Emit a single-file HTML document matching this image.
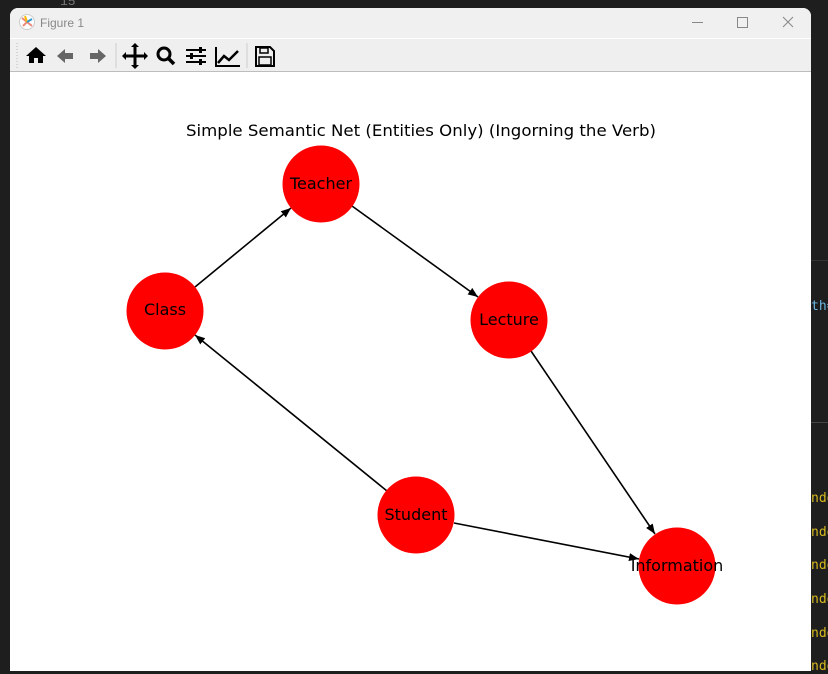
<!DOCTYPE html>
<html><head><style>
html,body{margin:0;padding:0;width:828px;height:671px;overflow:hidden;background:#1e1e1e;font-family:"Liberation Sans","DejaVu Sans",sans-serif;}
.win{position:absolute;left:10px;top:8px;width:801px;height:663px;background:#fff;border-radius:8px 8px 0 0;overflow:hidden;}
.title{position:absolute;left:0;top:0;width:801px;height:30px;background:#f0f0f0;border-bottom:1px solid #fff;}
.tb{position:absolute;left:0;top:31px;width:801px;height:32px;background:#efefef;border-bottom:1px solid #bdbdbd;}
.ed{position:absolute;color:#d7ba1d;font:13px "DejaVu Sans Mono",monospace;left:811px;}
</style></head><body>
<div style="position:absolute;left:811px;top:260px;width:17px;height:1px;background:#333"></div>
<div style="position:absolute;left:811px;top:422px;width:17px;height:1px;background:#444"></div>
<div class="ed" style="top:299px;color:#6cb6e0">th=</div>
<div class="ed" style="top:491px">ndo</div>
<div class="ed" style="top:525px">ndo</div>
<div class="ed" style="top:558px">ndo</div>
<div class="ed" style="top:592px">ndo</div>
<div class="ed" style="top:626px">ndo</div>
<div class="ed" style="top:659px">ndo</div>
<div style="position:absolute;left:60px;top:-6px;color:#777;font:13px monospace">15</div>
<div class="win">
 <div class="title">
  <svg style="position:absolute;left:9px;top:6px" width="16" height="16"><circle cx="8" cy="8" r="7.5" fill="#fff" stroke="#ccc"/><path d="M8 8L3 4M8 8L4 12M8 8L13 12" stroke="#e87" stroke-width="2"/><path d="M8 8L6 2" stroke="#fb0" stroke-width="2"/><path d="M8 8L13 5" stroke="#39c" stroke-width="2"/></svg>
  <div style="position:absolute;left:30px;top:8px;font-size:12px;color:#888">Figure 1</div>
  <div style="position:absolute;left:682px;top:14px;width:11px;height:1px;background:#888"></div>
  <div style="position:absolute;left:727px;top:9px;width:9px;height:9px;border:1px solid #888"></div>
  <svg style="position:absolute;left:772px;top:8px" width="12" height="12"><path d="M1 1L11 11M11 1L1 11" stroke="#888"/></svg>
 </div>
 <div class="tb">
  <svg width="300" height="32" style="position:absolute;left:0;top:0">
   <path d="M7 4v26" stroke="#bbb" stroke-dasharray="1,2"/>
   <path d="M16 17l10-9 10 9h-3v7h-5v-5h-4v5h-5v-7z" fill="#000"/>
   <path d="M47 17l8-7v4h8v6h-8v4z" fill="#666"/>
   <path d="M96 17l-8-7v4h-8v6h8v4z" fill="#666"/>
   <path d="M106 4v25" stroke="#ccc"/>
   <path d="M125 6v22M114 17h22" stroke="#000" stroke-width="3"/><path d="M125 4l-4 4h8zM125 30l-4-4h8zM112 17l4-4v8zM138 17l-4-4v8z" fill="#000"/>
   <circle cx="154" cy="15" r="6" fill="none" stroke="#000" stroke-width="3"/><path d="M158 19l6 6" stroke="#000" stroke-width="3.5"/>
   <path d="M176 11h20M176 17h20M176 23h20" stroke="#000" stroke-width="2"/><rect x="189" y="8" width="3" height="6" fill="#000"/><rect x="180" y="14" width="3" height="6" fill="#000"/><rect x="189" y="20" width="3" height="6" fill="#000"/>
   <path d="M206 8v19h24" stroke="#000" stroke-width="2" fill="none"/><path d="M208 24l6-7 5 4 9-9" stroke="#000" stroke-width="2.5" fill="none"/>
   <path d="M237 4v25" stroke="#ccc"/>
   <path d="M246 8h14l4 4v15h-18z" fill="none" stroke="#000" stroke-width="2"/><rect x="250" y="9" width="8" height="5" fill="none" stroke="#000" stroke-width="1.5"/><rect x="249" y="18" width="12" height="8" fill="none" stroke="#000" stroke-width="1.5"/>
  </svg>
 </div>
</div>
<svg style="position:absolute;left:0;top:0" width="828" height="671">
 <defs><marker id="a" markerWidth="10" markerHeight="8" refX="10" refY="4" orient="auto" markerUnits="userSpaceOnUse"><path d="M0 0L10 4L0 8z" fill="#000"/></marker></defs>
 <g stroke="#000" stroke-width="1.6" marker-end="url(#a)">
  <line x1="195" y1="287" x2="291" y2="208"/>
  <line x1="352" y1="206" x2="478" y2="297"/>
  <line x1="531" y1="351" x2="655" y2="534"/>
  <line x1="387" y1="491" x2="195" y2="335"/>
  <line x1="454" y1="523" x2="639" y2="559"/>
 </g>
 <g fill="#ff0000">
  <circle cx="321" cy="184" r="38.5"/><circle cx="165" cy="311" r="38.5"/><circle cx="509" cy="320" r="38.5"/><circle cx="416" cy="515" r="38.5"/><circle cx="677" cy="566" r="38.5"/>
 </g>
 <g font-family="DejaVu Sans,sans-serif" font-size="16" text-anchor="middle" fill="#000">
  <text x="321" y="189">Teacher</text><text x="165" y="315">Class</text><text x="509" y="325">Lecture</text><text x="416" y="520">Student</text><text x="677" y="571">Information</text>
  <text x="421" y="136" textLength="470" lengthAdjust="spacingAndGlyphs">Simple Semantic Net (Entities Only) (Ingorning the Verb)</text>
 </g>
</svg>
</body></html>
